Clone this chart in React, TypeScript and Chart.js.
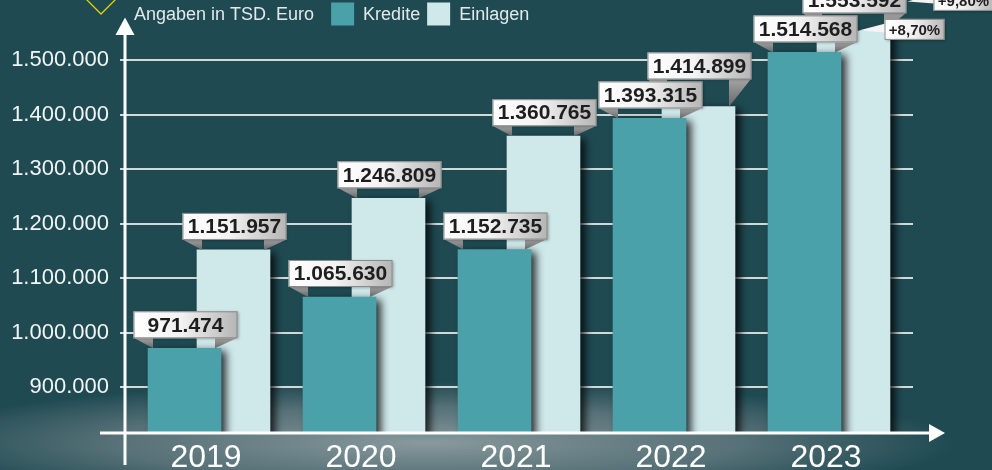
import React, { useEffect, useRef } from 'react';
import { Chart, registerables } from 'chart.js';

Chart.register(...registerables);

// ---- data ----
const years = ['2019', '2020', '2021', '2022', '2023'];
const kredite = [971474, 1065630, 1152735, 1393315, 1514568];
const einlagen = [1151957, 1246809, 1360765, 1414899, 1553592];
const seriesNames = ['Kredite', 'Einlagen'];
const unitNote = 'Angaben in TSD. Euro';
const yTickValues = [900000, 1000000, 1100000, 1200000, 1300000, 1400000, 1500000];
const yMin = 816000;
const yMax = 1574000;

// ---- style ----
const FONT = '"Liberation Sans", Arial, Helvetica, sans-serif';
const BG = '#1f4a52';
const KREDITE_COLOR = '#4aa1a9';
const EINLAGEN_COLOR = '#cfe8ea';
const BAR_W = 73;
const PAIR_SHIFT = 0.158; // half distance between the two bars of a year, in category units
const BOX_W = 104;
const BOX_H = 27;

const fmt = (n: number) => String(Math.round(n)).replace(/\B(?=(\d{3})+(?!\d))/g, '.');
const pct = (a: number, b: number) => '+' + ((a / b - 1) * 100).toFixed(2).replace('.', ',') + '%';

const bgPlugin = {
  id: 'bgPlugin',
  beforeDraw(chart: any) {
    const { ctx, width, height } = chart;
    ctx.save();
    ctx.fillStyle = BG;
    ctx.fillRect(0, 0, width, height);
    // smoky glow along the bottom
    ctx.translate(width * 0.43, height - 27);
    ctx.scale(1, 0.115);
    const g = ctx.createRadialGradient(0, 0, 0, 0, 0, 530);
    g.addColorStop(0, 'rgba(178,185,187,0.72)');
    g.addColorStop(0.6, 'rgba(150,158,162,0.46)');
    g.addColorStop(0.85, 'rgba(135,145,150,0.2)');
    g.addColorStop(1, 'rgba(130,140,145,0)');
    ctx.fillStyle = g;
    ctx.beginPath();
    ctx.arc(0, 0, 530, 0, Math.PI * 2);
    ctx.fill();
    ctx.restore();
    // yellow logo edge
    ctx.save();
    ctx.strokeStyle = '#e6d400';
    ctx.lineWidth = 1.3;
    ctx.beginPath();
    ctx.moveTo(86, -1);
    ctx.lineTo(101, 14);
    ctx.lineTo(116, -1);
    ctx.stroke();
    ctx.restore();
  },
};

const shadowPlugin = {
  id: 'shadowPlugin',
  beforeDatasetDraw(chart: any) {
    const ctx = chart.ctx;
    ctx.save();
    ctx.shadowColor = 'rgba(0,0,0,0.8)';
    ctx.shadowBlur = 8;
    ctx.shadowOffsetX = 5;
    ctx.shadowOffsetY = 3;
  },
  afterDatasetDraw(chart: any) {
    chart.ctx.restore();
  },
};

function drawBox(ctx: CanvasRenderingContext2D, b: any) {
  const el = b.el;
  const barL = el.x - el.width / 2;
  const barR = el.x + el.width / 2;
  // legs
  ctx.save();
  const lg = ctx.createLinearGradient(0, b.bottom, 0, el.y);
  lg.addColorStop(0, '#a4a4a4');
  lg.addColorStop(1, '#666');
  ctx.fillStyle = lg;
  ctx.beginPath();
  ctx.moveTo(b.left + 1, b.bottom);
  ctx.lineTo(barL + 5, b.bottom);
  ctx.lineTo(barL + 5, el.y);
  ctx.closePath();
  ctx.fill();
  ctx.beginPath();
  ctx.moveTo(barR - 6, b.bottom);
  ctx.lineTo(b.right - 1, b.bottom);
  ctx.lineTo(barR - 6, el.y);
  ctx.closePath();
  ctx.fill();
  ctx.restore();
  // box
  ctx.save();
  ctx.shadowColor = 'rgba(0,0,0,0.35)';
  ctx.shadowBlur = 3;
  ctx.shadowOffsetX = 1;
  ctx.shadowOffsetY = 1;
  const g = ctx.createLinearGradient(b.left, 0, b.right, 0);
  g.addColorStop(0, '#ffffff');
  g.addColorStop(0.45, '#f3f3f3');
  g.addColorStop(1, '#b5b5b5');
  ctx.fillStyle = g;
  ctx.fillRect(b.left, b.top, BOX_W, BOX_H);
  ctx.restore();
  ctx.save();
  ctx.strokeStyle = '#8a8a8a';
  ctx.lineWidth = 1;
  ctx.strokeRect(b.left + 0.5, b.top + 0.5, BOX_W - 1, BOX_H - 1);
  ctx.fillStyle = '#1e1e1e';
  ctx.font = `bold 21px ${FONT}`;
  ctx.textAlign = 'center';
  ctx.textBaseline = 'middle';
  ctx.fillText(b.text, (b.left + b.right) / 2, b.top + BOX_H / 2 + 1);
  ctx.restore();
}

function drawPct(ctx: CanvasRenderingContext2D, b: any, text: string) {
  const w = 60, h = 21;
  const left = b.right + 27;
  const cy = b.top + BOX_H / 2 + 0.5;
  const top = cy - h / 2;
  ctx.save();
  const g = ctx.createLinearGradient(left, 0, left + w, 0);
  g.addColorStop(0, '#ffffff');
  g.addColorStop(0.5, '#f0f0f0');
  g.addColorStop(1, '#b8b8b8');
  ctx.fillStyle = '#f4f4f4';
  ctx.beginPath();
  ctx.moveTo(b.right + 1, cy + 1);
  ctx.lineTo(left + 1, cy - 6);
  ctx.lineTo(left + 1, cy + 3);
  ctx.closePath();
  ctx.fill();
  ctx.shadowColor = 'rgba(0,0,0,0.35)';
  ctx.shadowBlur = 3;
  ctx.shadowOffsetX = 1;
  ctx.shadowOffsetY = 1;
  ctx.fillStyle = g;
  ctx.fillRect(left, top, w, h);
  ctx.restore();
  ctx.save();
  ctx.strokeStyle = '#8a8a8a';
  ctx.strokeRect(left + 0.5, top + 0.5, w - 1, h - 1);
  ctx.fillStyle = '#1e1e1e';
  ctx.font = `bold 15px ${FONT}`;
  ctx.textAlign = 'center';
  ctx.textBaseline = 'middle';
  ctx.fillText(text, left + w / 2, cy + 1);
  ctx.restore();
}

const overlayPlugin = {
  id: 'overlayPlugin',
  afterDatasetsDraw(chart: any) {
    const ctx: CanvasRenderingContext2D = chart.ctx;
    const { left, right, bottom } = chart.chartArea;
    const axisTop = 20;

    // axes with arrows
    ctx.save();
    ctx.strokeStyle = '#ffffff';
    ctx.fillStyle = '#ffffff';
    ctx.lineWidth = 3;
    ctx.beginPath();
    ctx.moveTo(left, bottom + 32);
    ctx.lineTo(left, axisTop + 14);
    ctx.stroke();
    ctx.beginPath();
    ctx.moveTo(left, axisTop - 2.5);
    ctx.lineTo(left - 9.5, axisTop + 15);
    ctx.lineTo(left + 9.5, axisTop + 15);
    ctx.closePath();
    ctx.fill();
    ctx.beginPath();
    ctx.moveTo(left - 25, bottom);
    ctx.lineTo(right + 18, bottom);
    ctx.stroke();
    ctx.beginPath();
    ctx.moveTo(right + 32, bottom);
    ctx.lineTo(right + 16, bottom - 9);
    ctx.lineTo(right + 16, bottom + 9);
    ctx.closePath();
    ctx.fill();
    ctx.restore();

    // legend
    ctx.save();
    ctx.font = `18px ${FONT}`;
    ctx.textBaseline = 'middle';
    ctx.fillStyle = '#e2e9ea';
    let x = left + 9;
    const ly = 15;
    ctx.fillText(unitNote, x, ly);
    x += ctx.measureText(unitNote).width + 17;
    const colors = [KREDITE_COLOR, EINLAGEN_COLOR];
    seriesNames.forEach((name, i) => {
      ctx.fillStyle = colors[i];
      ctx.fillRect(x, 2.5, 23, 23);
      x += 23 + 9;
      ctx.fillStyle = '#e2e9ea';
      ctx.fillText(name, x, ly);
      x += ctx.measureText(name).width + 7;
    });
    ctx.restore();

    // value boxes
    const kMeta = chart.getDatasetMeta(0);
    const eMeta = chart.getDatasetMeta(1);
    const place = (el: any, v: number) => {
      const cx = el.x + 1;
      const b = el.y - 10;
      return { el, text: fmt(v), left: cx - BOX_W / 2, right: cx + BOX_W / 2, top: b - BOX_H, bottom: b };
    };
    const kBoxes: any[] = [];
    const eBoxes: any[] = [];
    years.forEach((_, i) => {
      const k = place(kMeta.data[i], kredite[i]);
      const e = place(eMeta.data[i], einlagen[i]);
      if (e.left < k.right && e.bottom > k.top - 2 && e.top < k.bottom) {
        e.bottom = k.top - 2;
        e.top = e.bottom - BOX_H;
      }
      kBoxes.push(k);
      eBoxes.push(e);
    });
    const n = years.length - 1;
    eBoxes.forEach((b) => drawBox(ctx, b));
    drawPct(ctx, eBoxes[n], pct(einlagen[n], einlagen[n - 1]));
    kBoxes.forEach((b) => drawBox(ctx, b));
    drawPct(ctx, kBoxes[n], pct(kredite[n], kredite[n - 1]));
  },
};

export default function App() {
  const ref = useRef<HTMLCanvasElement>(null);
  useEffect(() => {
    if (!ref.current) return;
    const clip = { left: 20, top: 20, right: 30, bottom: 0 };
    const chart = new Chart(ref.current, {
      type: 'bar',
      data: {
        datasets: [
          {
            label: seriesNames[0],
            data: kredite.map((v, i) => ({ x: i - PAIR_SHIFT, y: v })),
            backgroundColor: KREDITE_COLOR,
            barThickness: BAR_W,
            grouped: false,
            clip,
          },
          {
            label: seriesNames[1],
            data: einlagen.map((v, i) => ({ x: i + PAIR_SHIFT, y: v })),
            backgroundColor: EINLAGEN_COLOR,
            barThickness: BAR_W,
            grouped: false,
            clip,
          },
        ],
      } as any,
      options: {
        responsive: false,
        animation: false,
        devicePixelRatio: 1,
        layout: { padding: { top: 20, right: 79, bottom: 0, left: 0 } },
        plugins: { legend: { display: false }, tooltip: { enabled: false } },
        scales: {
          x: {
            type: 'linear',
            min: -0.542,
            max: 4.542,
            offset: false,
            grid: { display: false },
            border: { display: false },
            afterFit: (s: any) => {
              s.height = 37;
              s.paddingLeft = 0;
              s.paddingRight = 0;
            },
            afterBuildTicks: (s: any) => {
              s.ticks = years.map((_, i) => ({ value: i }));
            },
            ticks: {
              autoSkip: false,
              maxRotation: 0,
              padding: 1,
              labelOffset: -3,
              color: '#ffffff',
              font: { family: FONT, size: 32, lineHeight: 1 },
              callback: (v: any) => years[v] ?? '',
            },
          },
          y: {
            min: yMin,
            max: yMax,
            border: { display: false },
            grid: { color: '#d3d8d8', lineWidth: 2, drawTicks: true, tickLength: 5, tickColor: '#d3d8d8' },
            afterFit: (s: any) => {
              s.width = 125;
              s.paddingTop = 0;
              s.paddingBottom = 0;
            },
            afterBuildTicks: (s: any) => {
              s.ticks = yTickValues.map((v) => ({ value: v }));
            },
            ticks: {
              padding: 11,
              color: '#f2f5f5',
              font: { family: FONT, size: 22 },
              callback: (v: any) => fmt(Number(v)),
            },
          },
        },
      } as any,
      plugins: [bgPlugin, shadowPlugin, overlayPlugin],
    });
    return () => chart.destroy();
  }, []);
  return (
    <div style={{ position: 'fixed', left: 0, top: 0, width: 992, height: 470, overflow: 'hidden' }}>
      <canvas ref={ref} width={992} height={470} style={{ display: 'block' }} />
    </div>
  );
}
